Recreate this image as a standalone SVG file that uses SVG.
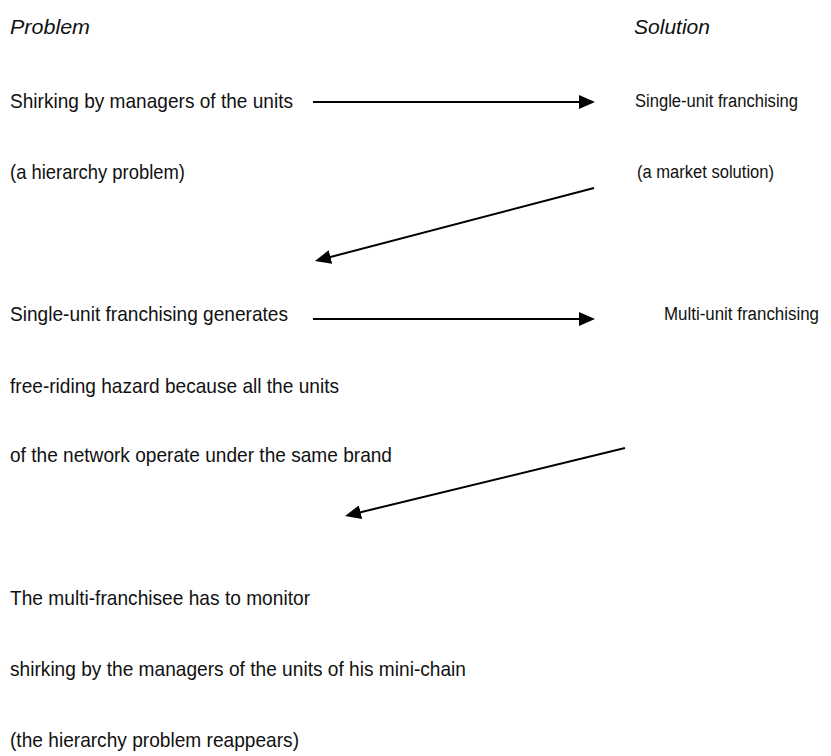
<svg xmlns="http://www.w3.org/2000/svg" width="831" height="756" viewBox="0 0 831 756">
<style>
text{font-family:"Liberation Sans",Arial,sans-serif;font-size:21px;fill:#111;}
.it{font-style:italic;}
.r{font-size:18px;}
.conn{stroke:#000;stroke-width:2;fill:none;}
</style>
<defs>
<marker id="ah" markerUnits="userSpaceOnUse" markerWidth="16" markerHeight="14" refX="2" refY="7" orient="auto" viewBox="0 0 16 14">
<path d="M0,0 L16,7 L0,14 z" fill="#000"/>
</marker>
</defs>
<rect width="831" height="756" fill="#fff"/>
<g id="headers">
<text class="it" x="10" y="34" textLength="80" lengthAdjust="spacingAndGlyphs">Problem</text>
<text class="it" x="634" y="34" textLength="76" lengthAdjust="spacingAndGlyphs">Solution</text>
</g>
<g id="p1">
<text x="10" y="108" textLength="283" lengthAdjust="spacingAndGlyphs">Shirking by managers of the units</text>
<text x="10" y="179" textLength="175" lengthAdjust="spacingAndGlyphs">(a hierarchy problem)</text>
</g>
<g id="s1">
<text class="r" x="635" y="107" textLength="163" lengthAdjust="spacingAndGlyphs">Single-unit franchising</text>
<text class="r" x="637" y="178" textLength="137" lengthAdjust="spacingAndGlyphs">(a market solution)</text>
</g>
<g id="p2">
<text x="10" y="321" textLength="278" lengthAdjust="spacingAndGlyphs">Single-unit franchising generates</text>
<text x="10" y="393" textLength="329" lengthAdjust="spacingAndGlyphs">free-riding hazard because all the units</text>
<text x="10" y="462" textLength="382" lengthAdjust="spacingAndGlyphs">of the network operate under the same brand</text>
</g>
<g id="s2">
<text class="r" x="664" y="320" textLength="155" lengthAdjust="spacingAndGlyphs">Multi-unit franchising</text>
</g>
<g id="p3">
<text x="10" y="605" textLength="300" lengthAdjust="spacingAndGlyphs">The multi-franchisee has to monitor</text>
<text x="10" y="676" textLength="456" lengthAdjust="spacingAndGlyphs">shirking by the managers of the units of his mini-chain</text>
<text x="10" y="747" textLength="289" lengthAdjust="spacingAndGlyphs">(the hierarchy problem reappears)</text>
</g>
<g id="connectors">
<path class="conn" d="M313,102 L581,102" marker-end="url(#ah)"/>
<path class="conn" d="M594,188 L328.5,257.5" marker-end="url(#ah)"/>
<path class="conn" d="M313,319 L581,319" marker-end="url(#ah)"/>
<path class="conn" d="M625,448 L358.6,512.7" marker-end="url(#ah)"/>
</g>
</svg>
